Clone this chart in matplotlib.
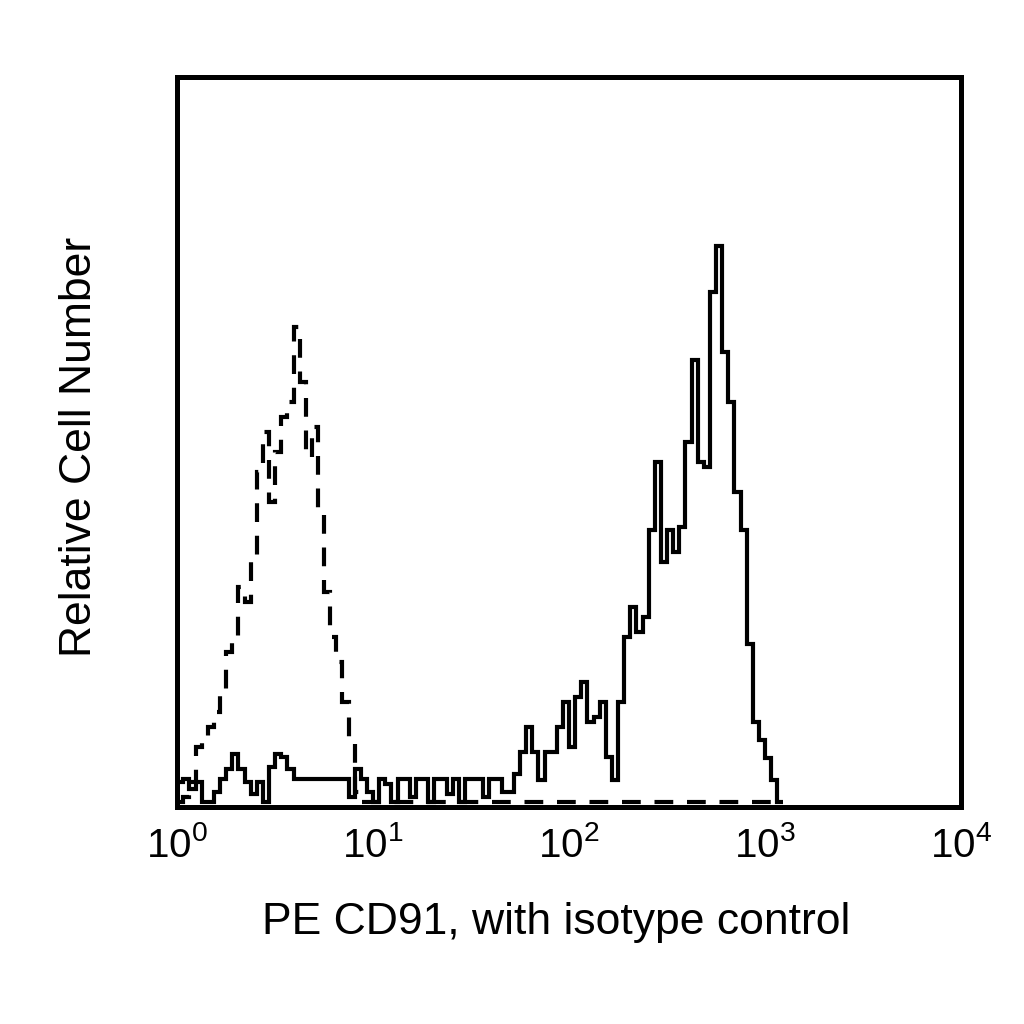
import numpy as np
import matplotlib
matplotlib.use("Agg")
import matplotlib.pyplot as plt
from matplotlib.ticker import NullLocator

plt.rcParams['font.family'] = ['Liberation Sans', 'DejaVu Sans']
plt.rcParams['mathtext.fontset'] = 'custom'
plt.rcParams['mathtext.rm'] = 'Liberation Sans'
plt.rcParams['mathtext.default'] = 'regular'

# 4-decade log scale, 128 display channels (32 per decade)
n_channels = 128
channel_decades = np.linspace(0, 4, n_channels + 1)

# PE CD91 stained cells (solid), relative counts per channel
cd91_counts = [
    20, 23, 13, 20, 0, 0, 10, 23, 33, 48, 33, 20, 8, 20, 0, 35, 48, 45, 33,
    23, 23, 23, 23, 23, 23, 23, 23, 23,
    5, 33, 23, 10, 0, 23, 18, 0, 23, 23, 5, 23, 23, 0, 23, 23, 8, 23, 0,
    23, 23, 23, 5, 23, 23, 10,
    10, 28, 50, 75, 50, 22, 50, 50,
    75, 100, 55, 105, 120, 80, 85, 100,
    45, 22, 100, 165, 195, 170,
    185, 272, 340, 240, 272, 250, 275, 360, 442, 340, 335, 511, 557, 450,
    400, 310, 272, 158, 80, 62, 44, 22, 0,
]

# isotype control (dashed)
isotype_counts = [
    0, 5, 20, 55, 60, 75, 90, 110, 150, 165, 215, 200, 245, 330, 370, 300,
    350, 385, 400, 475, 420, 345, 375, 290, 210, 165, 140, 100, 65, 10,
] + [0] * 69

x_ticks = [1, 10, 100, 1000, 10000]

fig = plt.figure(figsize=(10.24, 10.24), dpi=100)
ax = fig.add_axes([0.173, 0.212, 0.7655, 0.713])

edges = 10 ** channel_decades
ax.stairs(cd91_counts, edges[:len(cd91_counts) + 1], baseline=None,
          color='black', linewidth=3.0)
ax.stairs(isotype_counts, edges[:len(isotype_counts) + 1], baseline=None,
          color='black', linewidth=3.0, linestyle=(0, (4.5, 3.3)))

ax.set_xscale('log')
ax.set_xlim(1, 10000)
ax.set_ylim(-5, 726)
ax.set_xticks(x_ticks)
ax.xaxis.set_minor_locator(NullLocator())
ax.set_yticks([])
ax.tick_params(axis='x', length=0, pad=14, labelsize=29)

for s in ax.spines.values():
    s.set_linewidth(3.6)
    s.set_color('black')

ax.set_xlabel('PE CD91, with isotype control', fontsize=32)
ax.xaxis.set_label_coords(0.483, -0.13)
ax.set_ylabel('Relative Cell Number', fontsize=32)
ax.yaxis.set_label_coords(-0.099, 0.493)

fig.savefig('out.png', dpi=100)
